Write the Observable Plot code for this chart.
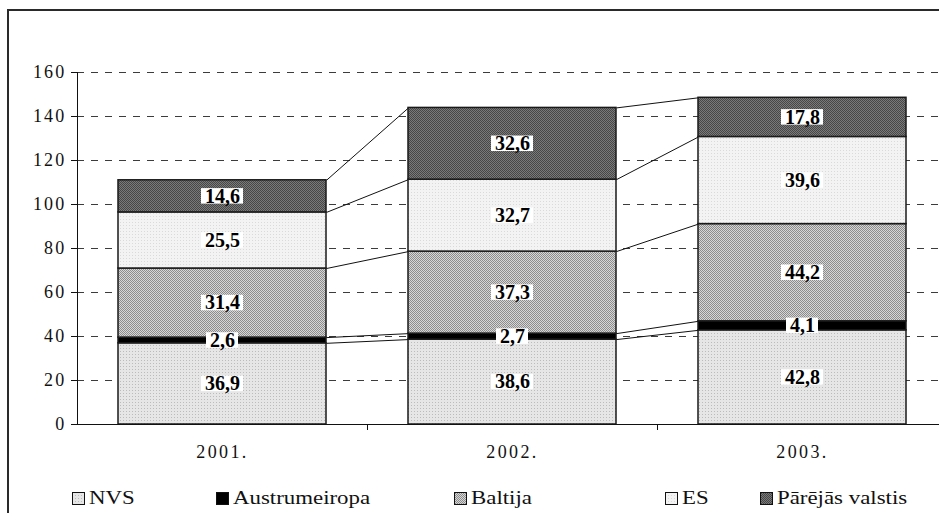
<!DOCTYPE html>
<html><head><meta charset="utf-8">
<script src="https://cdn.jsdelivr.net/npm/d3@7"></script>
<script src="https://cdn.jsdelivr.net/npm/@observablehq/plot@0.6"></script>
<style>
html,body{margin:0;padding:0;background:#fff;overflow:hidden;width:939px;height:513px;}
#frame{position:absolute;left:7px;top:9px;width:1000px;height:600px;border-left:2px solid #2a2a2a;border-top:2px solid #2a2a2a;}
#chart{position:absolute;left:0;top:0;}
.leg{position:absolute;top:489px;height:18px;display:flex;align-items:center;font-family:"Liberation Serif","Times New Roman",Tinos,"DejaVu Serif",serif;font-size:18px;color:#111;white-space:nowrap}
.leg svg{margin-right:4px;flex:none}
.leg span{display:inline-block;transform:scaleX(1.27);transform-origin:left center}
#chart svg text{font-family:"Liberation Serif","Times New Roman",Tinos,"DejaVu Serif",serif !important;}
</style></head><body>
<svg width="0" height="0" style="position:absolute"><defs>
<pattern id="pNVS" width="3" height="3" patternUnits="userSpaceOnUse"><rect width="3" height="3" fill="#e6e6e6"/><rect width="1" height="1" fill="#bcbcbc"/></pattern>
<pattern id="pBal" width="2" height="2" patternUnits="userSpaceOnUse"><rect width="2" height="2" fill="#d6d6d6"/><rect width="1" height="1" fill="#8c8c8c"/><rect x="1" y="1" width="1" height="1" fill="#8c8c8c"/></pattern>
<pattern id="pES" width="3" height="3" patternUnits="userSpaceOnUse"><rect width="3" height="3" fill="#f3f3f3"/><rect width="1" height="1" fill="#dadada"/></pattern>
<pattern id="pOth" width="2" height="2" patternUnits="userSpaceOnUse"><rect width="2" height="2" fill="#7a7a7a"/><rect width="1" height="1" fill="#474747"/><rect x="1" y="1" width="1" height="1" fill="#474747"/></pattern>
</defs></svg>
<div id="frame"></div>
<div id="chart"></div>
<div id="legend"></div>
<script>
// ---- data ----
const years = ["2001.", "2002.", "2003."];
const seriesNames = ["NVS", "Austrumeiropa", "Baltija", "ES", "Pārējās valstis"];
const NVS = [36.9, 38.6, 42.8];
const Austrumeiropa = [2.6, 2.7, 4.1];
const Baltija = [31.4, 37.3, 44.2];
const ES = [25.5, 32.7, 39.6];
const Parejas = [14.6, 32.6, 17.8];
const yTicks = [0, 20, 40, 60, 80, 100, 120, 140, 160];

const seriesValues = [NVS, Austrumeiropa, Baltija, ES, Parejas];
const seriesFill = ["url(#pNVS)", "#000000", "url(#pBal)", "url(#pES)", "url(#pOth)"];

// ---- derived table ----
const halfBar = 104 / 290;          // bar half-width in category units
const pxPerUnitX = 290, pxPerUnitY = 2.2;
const segs = [];
const tops = [];
years.forEach((yr, i) => {
  let cum = 0;
  seriesValues.forEach((vals, s) => {
    const v = vals[i];
    const y1 = cum, y2 = cum + v;
    cum = y2;
    const label = v.toFixed(1).replace(".", ",");
    segs.push({i: i + 1, s, y1, y2, mid: (y1 + y2) / 2, fill: seriesFill[s], label,
      bw: ((10 * label.length + 2) / 2) / pxPerUnitX, bh: 15.5 / pxPerUnitY});
    (tops[s] = tops[s] || [])[i] = y2;
  });
});
const links = [];
tops.forEach((arr) => {
  for (let i = 0; i < arr.length - 1; i++) {
    links.push({x1: i + 1 + halfBar, y1: arr[i], x2: i + 2 - halfBar, y2: arr[i + 1]});
  }
});

const chart = Plot.plot({
  width: 939,
  height: 475,
  marginLeft: 77, marginTop: 72, marginBottom: 51, marginRight: 0,
  style: {background: "transparent", overflow: "hidden", fontSize: "18px", color: "#111"},
  x: {type: "linear", domain: [0.5, 3.5], range: [77, 947]},
  y: {domain: [0, 160], range: [424, 72]},
  color: {type: "identity"},
  marks: [
    Plot.ruleY(yTicks.filter(t => t > 0), {x1: 0.5, x2: 3.5, stroke: "#3c3c3c", strokeDasharray: "7,7", strokeWidth: 1}),
    Plot.link(links, {x1: "x1", y1: "y1", x2: "x2", y2: "y2", stroke: "#111", strokeWidth: 1}),
    Plot.rect(segs, {x1: d => d.i - halfBar, x2: d => d.i + halfBar, y1: "y1", y2: "y2", fill: "fill", stroke: "#1a1a1a", strokeWidth: 1.5}),
    Plot.rect(segs, {x1: d => d.i - d.bw, x2: d => d.i + d.bw, y1: d => d.mid - d.bh / 2, y2: d => d.mid + d.bh / 2, fill: "white"}),
    Plot.text(segs, {x: "i", y: "mid", text: "label", fontWeight: "bold", fontSize: 20, fill: "#000", ariaLabel: "values"}),
    Plot.ruleX([0.5], {y1: 0, y2: 160, stroke: "#111", strokeWidth: 1}),
    Plot.ruleY([0], {x1: 0.5, x2: 3.5, stroke: "#111", strokeWidth: 1.2}),
    Plot.axisY({ticks: yTicks, tickSize: 6, tickPadding: 5, stroke: "#111", fill: "#111", label: null, fontSize: 18}),
    Plot.axisX({ticks: [1.5, 2.5, 3.5], tickSize: 6, tickFormat: () => "", stroke: "#111", label: null}),
    Plot.axisX({ticks: [1, 2, 3], tickSize: 0, tickPadding: 21, tickFormat: t => years[Math.round(t) - 1], fill: "#111", label: null, fontSize: 18})
  ]
});
document.getElementById("chart").appendChild(chart);
// slightly widened axis lettering, as in the original
chart.querySelectorAll('g[aria-label="y-axis tick label"] text').forEach(t => t.setAttribute("letter-spacing", "2.2"));
chart.querySelectorAll('g[aria-label="x-axis tick label"] text').forEach(t => t.setAttribute("letter-spacing", "2.4"));

// ---- legend ----
const legendX = [72, 216, 454, 665, 760];
const legend = document.getElementById("legend");
seriesNames.forEach((name, s) => {
  const d = document.createElement("div");
  d.className = "leg";
  d.style.left = legendX[s] + "px";
  d.innerHTML = `<svg width="13" height="13"><rect x="0.5" y="0.5" width="12" height="12" fill="${seriesFill[s]}" stroke="#111" stroke-width="1"/></svg><span>${name}</span>`;
  legend.appendChild(d);
});
</script>
</body></html>
